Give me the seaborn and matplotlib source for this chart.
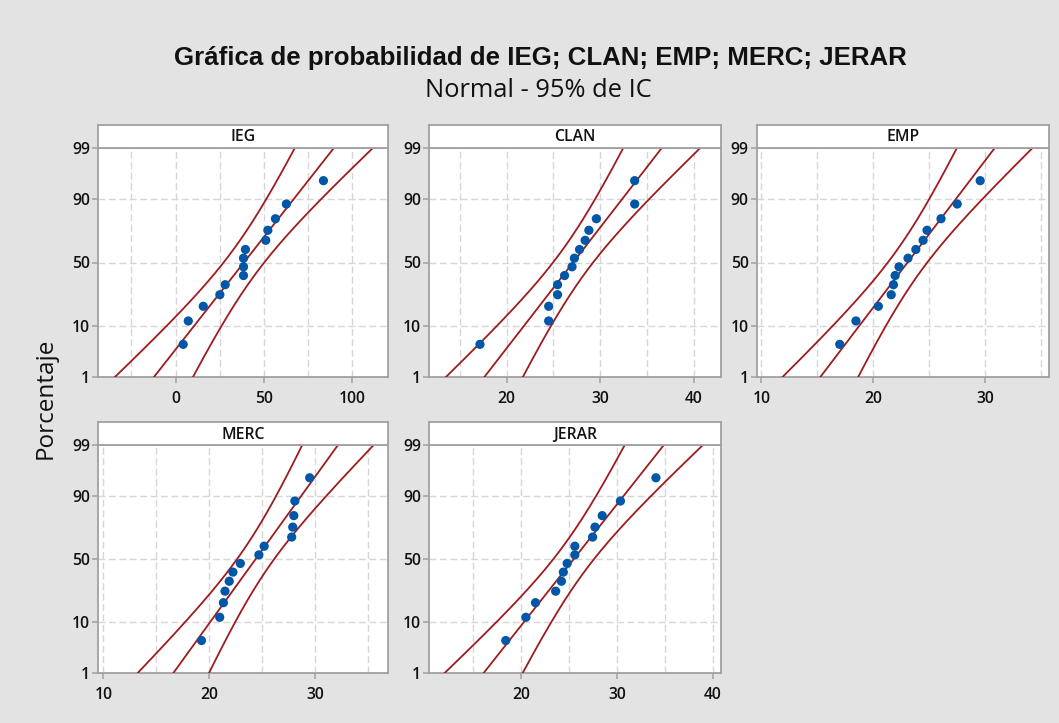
import numpy as np
import pandas as pd
import matplotlib
matplotlib.use("Agg")
import matplotlib.pyplot as plt
import seaborn as sns
from statistics import NormalDist

# ---------------- data ----------------
panel_names = ["IEG", "CLAN", "EMP", "MERC", "JERAR"]
ieg = [4.3, 7.2, 15.7, 25.1, 28.1, 38.5, 38.5, 38.5, 39.6, 51.1, 52.3, 56.6, 62.8, 83.8]
clan = [17.15, 24.5, 24.5, 25.45, 25.45, 26.2, 27.0, 27.25, 27.8, 28.4, 28.8, 29.6, 33.7, 33.7]
emp = [17.0, 18.45, 20.45, 21.6, 21.8, 21.95, 22.3, 23.1, 23.8, 24.45, 24.8, 26.05, 27.5, 29.55]
merc = [19.28, 21.0, 21.35, 21.5, 21.9, 22.25, 22.95, 24.7, 25.2, 27.8, 27.9, 28.0, 28.1, 29.5]
jerar = [18.4, 20.5, 21.5, 23.6, 24.2, 24.4, 24.8, 25.6, 25.6, 27.45, 27.7, 28.45, 30.35, 34.05]
series = [ieg, clan, emp, merc, jerar]

y_ticks = [1, 10, 50, 90, 99]
x_ticks = [[0, 50, 100], [20, 30, 40], [10, 20, 30], [10, 20, 30], [20, 30, 40]]
x_grid_step = [25, 5, 5, 5, 5]
x_limits = [(-43.8, 120.4), (11.7, 42.9), (9.58, 35.7), (9.53, 36.9), (10.4, 40.8)]

title = "Gráfica de probabilidad de IEG; CLAN; EMP; MERC; JERAR"
subtitle = "Normal - 95% de IC"
ylabel = "Porcentaje"

# ---------------- style ----------------
BG = "#E3E3E3"
RED = "#9E1B1E"
BLUE = "#0057A8"
SPINE = "#A0A0A0"
GRID = "#D6D6D6"

sns.set_theme(style="white")
plt.rcParams["font.family"] = ["Open Sans", "DejaVu Sans"]

nd = NormalDist()
_ppf = np.vectorize(nd.inv_cdf, otypes=[float])
_cdf = np.vectorize(nd.cdf, otypes=[float])


def fwd(p):
    p = np.clip(np.asarray(p, dtype=float) / 100.0, 1e-7, 1 - 1e-7)
    return _ppf(p)


def inv(z):
    return _cdf(np.asarray(z, dtype=float)) * 100.0


W, H = 1059, 723
fig = plt.figure(figsize=(W / 100, H / 100), dpi=100, facecolor=BG)

cols = [(98.3, 388.0), (429.0, 720.7), (756.7, 1049.0)]
rows = [(147.7, 377.3), (445.0, 673.3)]
strip_h = 22.7
positions = [(0, 0), (0, 1), (0, 2), (1, 0), (1, 1)]

zgrid = np.linspace(fwd(1), fwd(99), 300)
pgrid = inv(zgrid)

for k, name in enumerate(panel_names):
    r, c = positions[k]
    l, rr = cols[c]
    t, b = rows[r]
    ax = fig.add_axes([l / W, 1 - b / H, (rr - l) / W, (b - t) / H])
    ax.set_facecolor("white")
    ax.set_yscale("function", functions=(fwd, inv))

    x = np.sort(np.asarray(series[k], dtype=float))
    n = len(x)
    pct = (np.arange(1, n + 1) - 0.3) / (n + 0.4) * 100.0
    m = x.mean()
    s = x.std(ddof=1)
    fit = m + zgrid * s
    se = s * np.sqrt(1.0 / n + zgrid ** 2 / (2.0 * n))
    lo = fit - 1.96 * se
    hi = fit + 1.96 * se

    for xs in (lo, fit, hi):
        sns.lineplot(x=xs, y=pgrid, ax=ax, sort=False, estimator=None,
                     color=RED, linewidth=1.3, zorder=3)
    sns.scatterplot(x=x, y=pct, ax=ax, color=BLUE, s=44, edgecolor="none",
                    linewidth=0, zorder=4)

    ax.set_ylim(1, 99)
    ax.set_xlim(*x_limits[k])
    ax.set_yticks(y_ticks)
    ax.set_yticklabels([str(v) for v in y_ticks], fontweight="semibold")
    ax.set_xticks(x_ticks[k])
    ax.set_xticklabels([str(v) for v in x_ticks[k]], fontweight="semibold")
    ax.set_yticks([], minor=True)
    ax.set_xticks([], minor=True)
    step = x_grid_step[k]
    gpos = np.arange(np.ceil(x_limits[k][0] / step) * step, x_limits[k][1], step)

    ax.grid(False)
    for g in gpos:
        ax.axvline(g, color=GRID, linewidth=1.0, dashes=(5, 2.5), zorder=1)
    for yv in [10, 50, 90]:
        ax.axhline(yv, color=GRID, linewidth=1.0, dashes=(5, 2.5), zorder=1)

    ax.set_xlabel("")
    ax.set_ylabel("")
    for sp in ax.spines.values():
        sp.set_color(SPINE)
        sp.set_linewidth(1.3)
        sp.set_visible(True)
    ax.tick_params(axis="both", which="major", direction="out",
                   width=1.1, color=SPINE, labelsize=11.3, labelcolor="#111111",
                   left=True, bottom=True)
    ax.tick_params(axis="x", which="major", length=4.1, pad=5.5)
    ax.tick_params(axis="y", which="major", length=4.6, pad=1.2)

    # strip (panel title)
    sax = fig.add_axes([l / W, 1 - t / H, (rr - l) / W, strip_h / H])
    sax.set_facecolor("white")
    sax.set_xticks([])
    sax.set_yticks([])
    for sp in sax.spines.values():
        sp.set_color(SPINE)
        sp.set_linewidth(1.3)
        sp.set_visible(True)
    sax.text(0.5, 0.45, name, ha="center", va="center", fontsize=11.3,
             fontweight="semibold", color="#111111", transform=sax.transAxes)

fig.text(540 / W, 1 - 65 / H, title, ha="center", va="baseline", fontsize=18.6,
         fontweight="bold", family=["Liberation Sans", "DejaVu Sans"], color="#111111")
fig.text(538 / W, 1 - 97 / H, subtitle, ha="center", va="baseline", fontsize=18.4,
         family=["Open Sans", "DejaVu Sans"], color="#111111")
fig.text(46 / W, 1 - 398.5 / H, ylabel, rotation=90, ha="center", va="center",
         fontsize=17.5, family=["Open Sans", "DejaVu Sans"], color="#111111")

fig.savefig("out.png", dpi=100, facecolor=BG)
